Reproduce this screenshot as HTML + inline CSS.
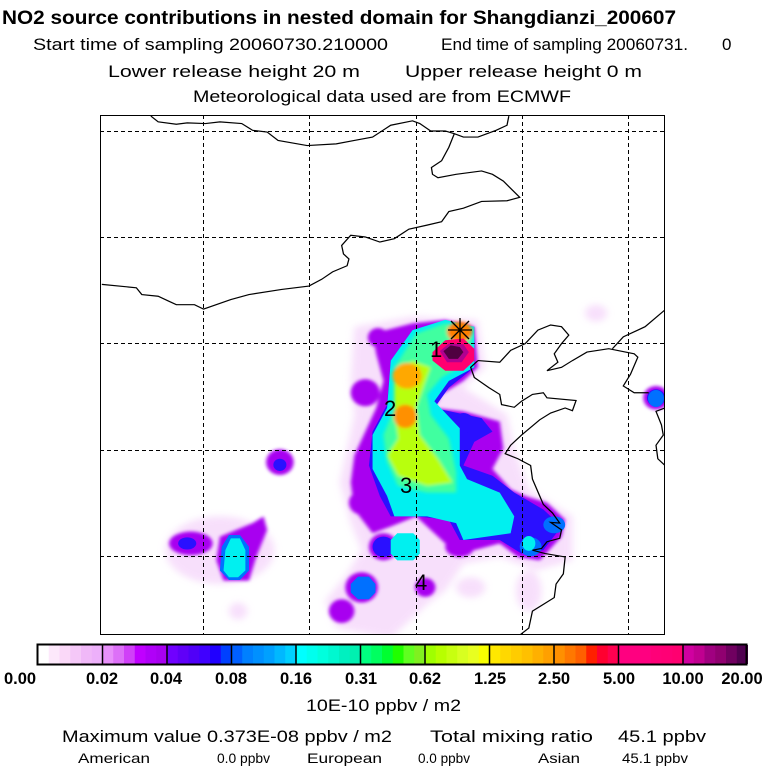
<!DOCTYPE html>
<html><head><style>
body{margin:0;background:#fff;width:768px;height:768px;overflow:hidden;font-family:"Liberation Sans",Arial,sans-serif}
svg{position:absolute;left:0;top:0}
</style></head><body>
<svg width="768" height="768" viewBox="0 0 768 768" xmlns="http://www.w3.org/2000/svg" font-family="Liberation Sans, Arial, sans-serif">
<defs>
<filter id="b" x="-20%" y="-20%" width="140%" height="140%"><feGaussianBlur stdDeviation="10"/></filter>
<filter id="b2" x="-20%" y="-20%" width="140%" height="140%"><feGaussianBlur stdDeviation="5"/></filter>
<clipPath id="fr"><rect x="100" y="115" width="565" height="520"/></clipPath>
</defs>
<text x="2" y="24" font-size="19" font-weight="bold" textLength="674" lengthAdjust="spacingAndGlyphs">NO2 source contributions in nested domain for Shangdianzi_200607</text>
<text x="33" y="50" font-size="17" textLength="355" lengthAdjust="spacingAndGlyphs">Start time of sampling 20060730.210000</text>
<text x="441" y="50" font-size="17" textLength="247" lengthAdjust="spacingAndGlyphs">End time of sampling 20060731.</text>
<text x="722" y="50" font-size="17">0</text>
<text x="108" y="77" font-size="17" textLength="252" lengthAdjust="spacingAndGlyphs">Lower release height   20 m</text>
<text x="405" y="77" font-size="17" textLength="237" lengthAdjust="spacingAndGlyphs">Upper release height    0 m</text>
<text x="193" y="102" font-size="17" textLength="378" lengthAdjust="spacingAndGlyphs">Meteorological data used are from ECMWF</text>

<g clip-path="url(#fr)">
<g transform="translate(100,110) scale(0.3634,0.3386)">
<g filter="url(#b)" fill="#f0c0f8" opacity="0.5">
<polygon points="700,640 860,610 1040,620 1060,760 1000,820 1120,900 1140,1000 1180,1120 1300,1200 1300,1330 1200,1360 1100,1320 1000,1340 950,1420 900,1460 800,1560 650,1530 620,1450 680,1370 720,1300 690,1220 660,1100 680,1000 700,900 690,800"/>
<ellipse cx="330" cy="1300" rx="150" ry="100"/>
<ellipse cx="1365" cy="600" rx="30" ry="25"/>
<ellipse cx="1020" cy="1410" rx="40" ry="30"/>
<ellipse cx="1180" cy="1420" rx="35" ry="60"/>
<ellipse cx="380" cy="1480" rx="25" ry="25"/>
</g>
<g filter="url(#b2)" fill="#a800f0">
<polygon points="750,660 860,630 950,620 1030,640 1040,760 1000,800 940,840 920,880 1000,890 1100,920 1110,1000 1080,1060 1130,1120 1170,1140 1230,1160 1280,1210 1270,1260 1210,1330 1150,1320 1100,1280 1030,1300 960,1290 900,1230 870,1200 800,1230 750,1250 700,1180 690,1100 700,1020 730,950 760,880 780,800 760,720"/>
<circle cx="730" cy="835" r="40"/>
<circle cx="765" cy="672" r="28"/>
<circle cx="495" cy="1040" r="38"/>
<circle cx="720" cy="1160" r="35"/>
<ellipse cx="250" cy="1280" rx="60" ry="35"/>
<polygon points="330,1260 420,1220 450,1200 460,1240 430,1320 410,1390 340,1390 320,1330"/>
<circle cx="780" cy="1290" r="40"/>
<circle cx="720" cy="1410" r="45"/>
<circle cx="665" cy="1480" r="35"/>
<circle cx="895" cy="1410" r="28"/>
<circle cx="1530" cy="850" r="35"/>
<ellipse cx="990" cy="1290" rx="40" ry="30"/>
</g>
<g fill="#2a10ff">
<polygon points="800,740 860,650 940,625 1030,640 1030,760 960,820 920,880 1050,910 1080,950 1030,980 1000,1050 1080,1080 1140,1130 1220,1180 1270,1230 1220,1300 1160,1310 1100,1270 990,1270 960,1210 870,1200 800,1200 770,1140 740,1050 750,950 790,870"/>
<circle cx="495" cy="1048" r="18"/>
<ellipse cx="240" cy="1280" rx="25" ry="18"/>
<circle cx="780" cy="1290" r="30"/>
<circle cx="1530" cy="850" r="25"/>
<circle cx="1000" cy="925" r="30"/>
</g>
<g fill="#0070ff">
<polygon points="335,1290 355,1255 385,1255 410,1290 410,1360 385,1388 355,1388 330,1360"/>
<polygon points="690,1400 710,1378 740,1378 758,1400 758,1425 740,1445 710,1445 690,1425"/>
<ellipse cx="1530" cy="852" rx="22" ry="25"/>
<ellipse cx="1250" cy="1225" rx="30" ry="25"/>
<ellipse cx="1185" cy="1290" rx="30" ry="28"/>
</g>
<g fill="#00f0f0">
<polygon points="800,740 860,650 950,620 1030,640 1030,760 960,800 920,860 990,940 990,1050 1010,1090 1100,1130 1140,1200 1130,1250 1000,1270 980,1220 900,1200 810,1200 790,1140 750,1060 750,960 790,880"/>
<polygon points="345,1300 360,1265 385,1265 400,1300 400,1360 380,1380 355,1380 340,1360"/>
<polygon points="800,1270 818,1250 862,1250 880,1270 880,1310 862,1330 818,1330 800,1310"/>
<ellipse cx="1180" cy="1280" rx="18" ry="22"/>
</g>
<g filter="url(#b2)">
<polygon fill="#40ffa0" points="810,760 870,660 950,630 1025,650 1020,740 940,790 900,840 910,900 960,970 980,1070 980,1130 900,1130 820,1110 790,1040 780,960 810,880"/>
<polygon fill="#b8ff10" points="810,780 860,740 910,760 890,820 870,880 880,960 930,1030 970,1100 900,1110 820,1080 790,1020 820,970 810,900"/>
<ellipse cx="845" cy="785" rx="40" ry="38" fill="#ffa800"/>
<ellipse cx="840" cy="905" rx="32" ry="35" fill="#ff9000"/>
<ellipse cx="990" cy="655" rx="35" ry="30" fill="#ff8000"/>
</g>
<polygon fill="#ff0070" points="915,715 950,680 1000,675 1030,705 1030,740 1000,770 950,770 915,740"/>
<polygon fill="#b00090" points="935,712 960,690 1000,692 1015,715 995,745 955,745"/>
<polygon fill="#500040" points="945,712 965,695 990,700 1000,715 985,735 960,735"/>
<g fill="none" stroke="#000" stroke-width="3.5">
<polyline points="140,18 160,35 210,42 240,38 290,40 330,35 390,40 420,60 460,65 490,90 570,105 650,100 700,90 750,80 800,45 860,32 880,40 910,62 950,62 975,70 1000,80 1040,80 1090,60 1120,45 1125,18"/>
<polyline points="975,70 960,110 940,150 912,170 915,190 930,200 980,190 1050,180 1080,190 1110,210 1155,258 1120,268 1050,270 1000,290 960,300 940,330 900,340 850,352 810,380 770,390 730,375 690,370 665,400 670,425 685,440 680,460 640,478 610,500 575,520 500,530 410,545 360,560 285,588 260,575 240,575 210,575 190,565 160,550 115,545 100,525 5,515"/>
<polyline points="1040,740 1020,760 1030,790 1070,820 1100,840 1105,870 1140,878 1160,860 1190,840 1220,835 1230,850 1310,858 1300,888 1280,880 1240,895 1210,915 1160,960 1130,990 1115,1015 1150,1030 1185,1050 1190,1090 1210,1140 1220,1165 1245,1190 1265,1220 1240,1218 1270,1240 1265,1265 1230,1275 1215,1295 1190,1300 1225,1310 1280,1320 1275,1370 1255,1400 1250,1440 1220,1460 1190,1480 1180,1530 1150,1555"/>
<polyline points="1040,740 1100,745 1130,710 1170,690 1205,650 1240,635 1270,640 1290,665 1270,690 1250,720 1260,745 1230,770 1270,760 1300,740 1340,715 1400,705 1470,720 1480,730 1460,780 1440,815 1470,835 1510,835"/>
<polyline points="1410,705 1440,670 1500,640 1555,590"/>
<polyline points="1555,880 1530,890 1545,930 1550,960 1530,990 1535,1030 1555,1050"/>
</g>
</g>
</g>
<g stroke="#000" stroke-width="1" stroke-dasharray="4,3">
<line x1="203.5" y1="115" x2="203.5" y2="635"/>
<line x1="309.5" y1="115" x2="309.5" y2="635"/>
<line x1="416.5" y1="115" x2="416.5" y2="635"/>
<line x1="522.5" y1="115" x2="522.5" y2="635"/>
<line x1="628.5" y1="115" x2="628.5" y2="635"/>
<line x1="100" y1="131.5" x2="665" y2="131.5"/>
<line x1="100" y1="237.5" x2="665" y2="237.5"/>
<line x1="100" y1="343.5" x2="665" y2="343.5"/>
<line x1="100" y1="450.5" x2="665" y2="450.5"/>
<line x1="100" y1="556.5" x2="665" y2="556.5"/>
</g>
<rect x="100.5" y="115.5" width="564" height="519" fill="none" stroke="#000" stroke-width="1"/>
<g stroke="#000" stroke-width="1.3">
<line x1="448" y1="330" x2="472" y2="330"/><line x1="460" y1="318" x2="460" y2="342"/>
<line x1="451" y1="321" x2="469" y2="339"/><line x1="469" y1="321" x2="451" y2="339"/>
</g>
<g font-size="22" fill="#000">
<text x="430" y="357">1</text><text x="384" y="416">2</text><text x="400" y="493">3</text><text x="415" y="590">4</text>
</g>
<g id="cb"></g>
<rect x="37.5" y="644.5" width="709" height="20" fill="none" stroke="#000" stroke-width="2"/>
<g font-size="16.5" font-weight="bold" text-anchor="middle">
<text x="20" y="684">0.00</text><text x="102" y="684">0.02</text><text x="166" y="684">0.04</text><text x="231" y="684">0.08</text><text x="296" y="684">0.16</text><text x="361" y="684">0.31</text><text x="425" y="684">0.62</text><text x="490" y="684">1.25</text><text x="554" y="684">2.50</text><text x="619" y="684">5.00</text><text x="683" y="684">10.00</text><text x="742" y="684">20.00</text>
</g>
<text x="306" y="711" font-size="16.5" textLength="155" lengthAdjust="spacingAndGlyphs">10E-10 ppbv / m2</text>
<text x="62" y="742" font-size="17" textLength="330" lengthAdjust="spacingAndGlyphs">Maximum value  0.373E-08 ppbv / m2</text>
<text x="430" y="742" font-size="17" textLength="163" lengthAdjust="spacingAndGlyphs">Total mixing ratio</text>
<text x="618" y="742" font-size="17" textLength="88" lengthAdjust="spacingAndGlyphs">45.1 ppbv</text>
<g font-size="14">
<text x="78" y="763" textLength="72" lengthAdjust="spacingAndGlyphs">American</text><text x="217" y="763" textLength="53" lengthAdjust="spacingAndGlyphs">0.0 ppbv</text>
<text x="307" y="763" textLength="75" lengthAdjust="spacingAndGlyphs">European</text><text x="418" y="763" textLength="52" lengthAdjust="spacingAndGlyphs">0.0 ppbv</text>
<text x="538" y="763" textLength="42" lengthAdjust="spacingAndGlyphs">Asian</text><text x="622" y="763" textLength="66" lengthAdjust="spacingAndGlyphs">45.1 ppbv</text>
</g>
</svg>
<script>
var segs=[["#ffffff","#fde8fb","#fad8f8","#f5c8f8","#f0b8f8","#edb0fa"],["#e890fa","#dd70f8","#d040f8","#c000ff","#b000f8","#a800f0"],["#7000ff","#6000f8","#5000f8","#4000ff","#2000ff","#0040ff"],["#0060ff","#0080ff","#0090ff","#00a0ff","#00b8ff","#00d0ff"],["#00ffff","#00ffee","#00ffdd","#00f8d0","#00f0c0","#00f0b0"],["#00ff80","#00ff60","#00ff30","#20ff00","#60ff20","#80f020"],["#a0ff00","#b8ff00","#c8ff10","#d8ff20","#e8ff20","#f8ff00"],["#ffe800","#ffd800","#ffcc00","#ffc000","#ffb000","#ffa000"],["#ff9000","#ff7800","#ff6000","#ff2000","#ff0030","#ff0050"],["#ff0080","#ff0080","#ff0080","#ff0078","#ff0075","#ff0070"],["#d000a0","#c00090","#a00080","#900070","#700060","#500050"]];
var g=document.getElementById("cb"),x0=38,w=64.5,h="";
for(var i=0;i<11;i++){for(var j=0;j<6;j++){h+='<rect x="'+(x0+i*w+j*w/6)+'" y="645" width="'+(w/6+0.5)+'" height="19" fill="'+segs[i][j]+'"/>';}
if(i>0)h+='<line x1="'+(x0+i*w)+'" y1="645" x2="'+(x0+i*w)+'" y2="664" stroke="#000" stroke-width="1.5"/>';}
g.innerHTML=h;
</script>
</body></html>
